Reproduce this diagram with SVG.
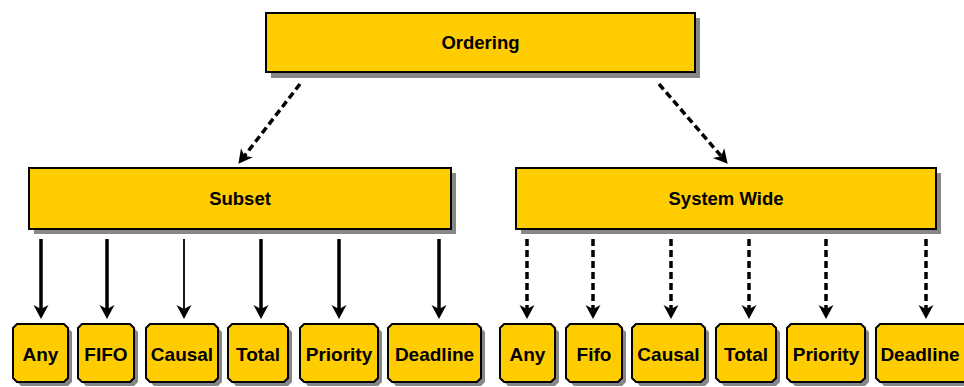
<svg xmlns="http://www.w3.org/2000/svg" width="964" height="387" viewBox="0 0 964 387">
  <style>
    .box { fill: #FFCC00; stroke: #000; stroke-width: 2; }
    .shadow { fill: #878787; stroke: none; }
    .label { font-family: "Liberation Sans", Arial, sans-serif; font-weight: bold; font-size: 18.5px; fill: #000; text-anchor: middle; }
    .leaf { font-size: 19px; }
    .solid { stroke: #000; stroke-width: 3.5; fill: none; }
    .thin { stroke: #000; stroke-width: 1.8; fill: none; }
    .dash { stroke: #000; stroke-width: 3.5; fill: none; stroke-dasharray: 7 4; }
  </style>
  <defs>
    <marker id="head" markerUnits="userSpaceOnUse" viewBox="0 -8 15 16" refX="5" refY="0" markerWidth="15" markerHeight="16" orient="auto" overflow="visible">
      <path d="M14,0 L0,-7.5 L4,0 L0,7.5 Z" fill="#000"/>
    </marker>
  </defs>

  <rect width="964" height="387" fill="#fff"/>

  <!-- top level -->
  <g id="ordering">
    <rect class="shadow" x="271" y="18" width="429" height="60"/>
    <rect class="box" x="266" y="13" width="429" height="59"/>
    <text class="label" x="480.5" y="49">Ordering</text>
  </g>

  <!-- second level -->
  <g id="subset">
    <rect class="shadow" x="34" y="173" width="422" height="61"/>
    <rect class="box" x="29" y="168" width="422" height="61"/>
    <text class="label" x="240" y="205">Subset</text>
  </g>
  <g id="system-wide">
    <rect class="shadow" x="521" y="173" width="420" height="61"/>
    <rect class="box" x="516" y="168" width="420" height="61"/>
    <text class="label" x="726" y="205">System Wide</text>
  </g>

  <!-- subset leaves -->
  <g id="subset-any">
    <path class="shadow" d="M21,328 H68 L72,332 V382 L68,386 H21 L17,382 V332 Z"/>
    <path class="box" d="M17,324 H64 L68,328 V378 L64,382 H17 L13,378 V328 Z"/>
    <text class="label leaf" x="40.5" y="360.5">Any</text>
  </g>
  <g id="subset-fifo">
    <path class="shadow" d="M86,328 H134 L138,332 V382 L134,386 H86 L82,382 V332 Z"/>
    <path class="box" d="M82,324 H130 L134,328 V378 L130,382 H82 L78,378 V328 Z"/>
    <text class="label leaf" x="106" y="360.5">FIFO</text>
  </g>
  <g id="subset-causal">
    <path class="shadow" d="M154,328 H218 L222,332 V382 L218,386 H154 L150,382 V332 Z"/>
    <path class="box" d="M150,324 H214 L218,328 V378 L214,382 H150 L146,378 V328 Z"/>
    <text class="label leaf" x="182" y="360.5">Causal</text>
  </g>
  <g id="subset-total">
    <path class="shadow" d="M236,328 H288 L292,332 V382 L288,386 H236 L232,382 V332 Z"/>
    <path class="box" d="M232,324 H284 L288,328 V378 L284,382 H232 L228,378 V328 Z"/>
    <text class="label leaf" x="258" y="360.5">Total</text>
  </g>
  <g id="subset-priority">
    <path class="shadow" d="M308,328 H378 L382,332 V382 L378,386 H308 L304,382 V332 Z"/>
    <path class="box" d="M304,324 H374 L378,328 V378 L374,382 H304 L300,378 V328 Z"/>
    <text class="label leaf" x="339" y="360.5">Priority</text>
  </g>
  <g id="subset-deadline">
    <path class="shadow" d="M396,328 H481 L485,332 V382 L481,386 H396 L392,382 V332 Z"/>
    <path class="box" d="M392,324 H477 L481,328 V378 L477,382 H392 L388,378 V328 Z"/>
    <text class="label leaf" x="434.5" y="360.5">Deadline</text>
  </g>

  <!-- system wide leaves -->
  <g id="system-any">
    <path class="shadow" d="M508,328 H555 L559,332 V382 L555,386 H508 L504,382 V332 Z"/>
    <path class="box" d="M504,324 H551 L555,328 V378 L551,382 H504 L500,378 V328 Z"/>
    <text class="label leaf" x="527.5" y="360.5">Any</text>
  </g>
  <g id="system-fifo">
    <path class="shadow" d="M574,328 H622 L626,332 V382 L622,386 H574 L570,382 V332 Z"/>
    <path class="box" d="M570,324 H618 L622,328 V378 L618,382 H570 L566,378 V328 Z"/>
    <text class="label leaf" x="594" y="360.5">Fifo</text>
  </g>
  <g id="system-causal">
    <path class="shadow" d="M640,328 H705 L709,332 V382 L705,386 H640 L636,382 V332 Z"/>
    <path class="box" d="M636,324 H701 L705,328 V378 L701,382 H636 L632,378 V328 Z"/>
    <text class="label leaf" x="668.5" y="360.5">Causal</text>
  </g>
  <g id="system-total">
    <path class="shadow" d="M724,328 H776 L780,332 V382 L776,386 H724 L720,382 V332 Z"/>
    <path class="box" d="M720,324 H772 L776,328 V378 L772,382 H720 L716,378 V328 Z"/>
    <text class="label leaf" x="746" y="360.5">Total</text>
  </g>
  <g id="system-priority">
    <path class="shadow" d="M795,328 H865 L869,332 V382 L865,386 H795 L791,382 V332 Z"/>
    <path class="box" d="M791,324 H861 L865,328 V378 L861,382 H791 L787,378 V328 Z"/>
    <text class="label leaf" x="826" y="360.5">Priority</text>
  </g>
  <g id="system-deadline">
    <path class="shadow" d="M884,328 H970 L974,332 V382 L970,386 H884 L880,382 V332 Z"/>
    <path class="box" d="M880,324 H966 L970,328 V378 L966,382 H880 L876,378 V328 Z"/>
    <text class="label leaf" x="920" y="360.5">Deadline</text>
  </g>

  <!-- connectors -->
  <g id="connectors">
    <line class="dash" x1="300" y1="84" x2="243.9" y2="156.7" marker-end="url(#head)"/>
    <line class="dash" x1="659" y1="84" x2="721.8" y2="156.9" marker-end="url(#head)"/>

    <line class="solid" x1="41" y1="239" x2="41" y2="310" marker-end="url(#head)"/>
    <line class="solid" x1="107" y1="239" x2="107" y2="310" marker-end="url(#head)"/>
    <line class="thin" x1="184" y1="239" x2="184" y2="310" marker-end="url(#head)"/>
    <line class="solid" x1="261" y1="239" x2="261" y2="310" marker-end="url(#head)"/>
    <line class="solid" x1="339" y1="239" x2="339" y2="310" marker-end="url(#head)"/>
    <line class="solid" x1="439" y1="239" x2="439" y2="310" marker-end="url(#head)"/>

    <line class="dash" x1="527" y1="239" x2="527" y2="310" marker-end="url(#head)"/>
    <line class="dash" x1="593" y1="239" x2="593" y2="310" marker-end="url(#head)"/>
    <line class="dash" x1="671" y1="239" x2="671" y2="310" marker-end="url(#head)"/>
    <line class="dash" x1="749" y1="239" x2="749" y2="310" marker-end="url(#head)"/>
    <line class="dash" x1="826" y1="239" x2="826" y2="310" marker-end="url(#head)"/>
    <line class="dash" x1="926" y1="239" x2="926" y2="310" marker-end="url(#head)"/>
  </g>
</svg>
